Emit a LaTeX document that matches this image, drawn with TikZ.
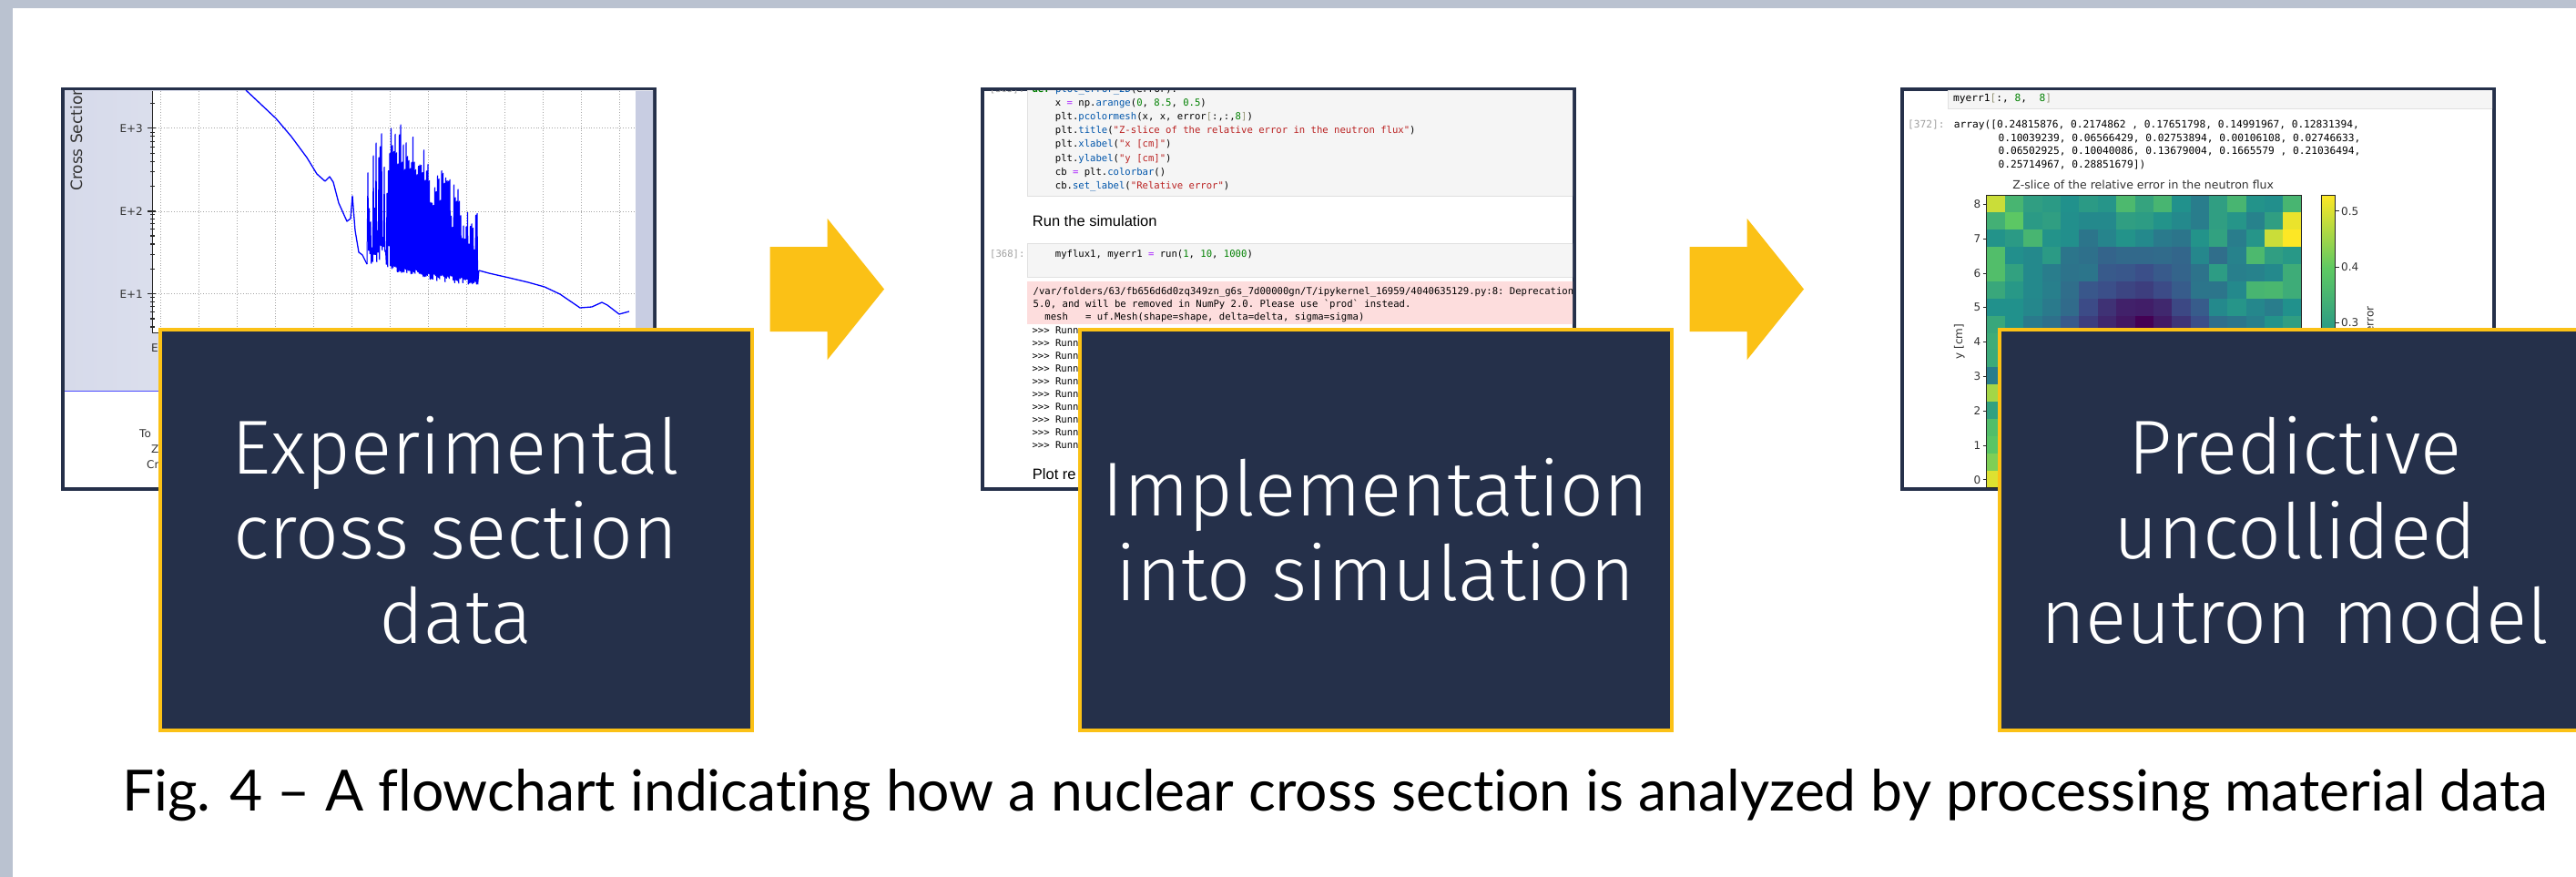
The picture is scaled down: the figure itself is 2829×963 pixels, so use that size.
\documentclass[tikz,border=0pt]{standalone}
\usepackage{fontspec}
\setmainfont{Lato}[Ligatures={TeX,NoCommon}]
\setmonofont{DejaVu Sans Mono}
\newfontfamily\boxfont{Fira Sans Light}
\newfontfamily\plotfont{DejaVu Sans}
\newfontfamily\nbfont{Liberation Sans}
\usepackage{xcolor}
\definecolor{FrameNavy}  {RGB}{37,  48,  74}
\definecolor{FlowYellow} {RGB}{251, 193, 22}
\definecolor{PageGray}   {RGB}{186, 194, 208}
\definecolor{XsBlue}     {RGB}{0,   0,  255}
\definecolor{XsShadeL}   {RGB}{214, 218, 234}
\definecolor{XsShadeR}   {RGB}{245, 246, 251}
\definecolor{XsStrip}    {RGB}{200, 205, 226}
\definecolor{CellGray}   {RGB}{245, 245, 245}
\definecolor{CellLine}   {RGB}{224, 224, 224}
\definecolor{ErrPink}    {RGB}{253, 221, 221}
\definecolor{PromptGray} {RGB}{160, 160, 160}
\definecolor{BracketGray}{RGB}{150, 150, 120}
\definecolor{CodeGreen}  {RGB}{0,  128,  0}
\definecolor{CodeBlue}   {RGB}{0,   85, 170}
\definecolor{CodeRed}    {RGB}{186, 33,  33}
\definecolor{CodePurple} {RGB}{170, 34, 255}
\definecolor{Vir0}{RGB}{68,  1,  84}
\definecolor{Vir1}{RGB}{59,  82, 139}
\definecolor{Vir2}{RGB}{33, 145, 140}
\definecolor{Vir3}{RGB}{94, 201,  98}
\definecolor{Vir4}{RGB}{253, 231, 37}
\usepackage{tikz}

\begin{document}
\begin{tikzpicture}[
  x=1pt, y=-1pt,
  screenframe/.style={
    draw=FrameNavy, fill=white,
    line width=4pt, inner sep=0pt,
    minimum width=650pt,
    minimum height=439pt},
  stagebox/.style={
    draw=FlowYellow, fill=FrameNavy,
    line width=4pt, inner sep=0pt,
    minimum width=650pt,
    minimum height=440pt,
    align=center, text=white,
    font=\boxfont\fontsize{84}{93}\selectfont},
  flowarrow/.style={fill=FlowYellow},
  codeline/.style={
    anchor=base west, inner sep=0pt,
    font=\ttfamily\fontsize{10.6}{12}\selectfont},
  arrline/.style={
    anchor=base west, inner sep=0pt,
    font=\ttfamily\fontsize{11.2}{12}\selectfont},
  heading/.style={
    anchor=base west, inner sep=0pt,
    font=\nbfont\fontsize{16.5}{18}\selectfont},
  plotlabel/.style={
    inner sep=0pt, text=black!80,
    font=\plotfont\fontsize{12}{14}\selectfont},
  cell/.style={fill=CellGray, draw=CellLine, line width=0.8pt}
]
\useasboundingbox (0,0) rectangle (2829,963);
\clip (0,0) rectangle (2829,963);
\fill[white] (0,0) rectangle (2829,963);
\fill[PageGray] (0,0) rectangle (2829,9);
\fill[PageGray] (0,0) rectangle (14,963);

% screenshot 1: cross section plot
\node[screenframe] (shotxs) at (394,317.5) {};
\begin{scope}
  \clip (71,100) rectangle (717,535);
  \shade[left color=XsShadeL, right color=XsShadeR]
    (71,100) rectangle (717,429);
  \fill[white] (168,100) rectangle (697.5,365);
  \fill[XsStrip] (697.5,100) rectangle (717,429);
  \draw[XsBlue!70, line width=1pt] (71,429) -- (717,429);
  \foreach \gx in {0,...,12}
    \draw[black!35, dotted, line width=0.9pt]
      ({176+42*\gx},100) -- ({176+42*\gx},365);
  \foreach \gy in {140.7,232,322.7}
    \draw[black!35, dotted, line width=0.9pt]
      (168,\gy) -- (697.5,\gy);
  \draw[black!85, line width=1pt]
    (167.5,100) -- (167.5,365) -- (697.5,365);
  \begin{scope}
    \clip (150,100) rectangle (175,365);
    \foreach \dec in {413.7,322.7,232,140.7}
      \foreach \k in {2,...,9}
        \draw[black!85, line width=1.2pt]
          (165,{\dec-91*log10(\k)}) -- (170,{\dec-91*log10(\k)});
  \end{scope}
  \foreach \gy in {140.7,232,322.7}
    \draw[black!85, line width=1.2pt] (162,\gy) -- (171,\gy);
  \node[plotlabel, anchor=east] (xsthree) at (157,140.7) {E+3};
  \node[plotlabel, anchor=east] (xstwo) at (157,232) {E+2};
  \node[plotlabel, anchor=east] (xsone) at (157,322.7) {E+1};
  \node[plotlabel, anchor=west] (xsaxis) at (166,382.5) {E};
  \node[plotlabel, rotate=90, anchor=base west,
    font=\plotfont\fontsize{17}{19}\selectfont]
    (xsylab) at (90,210) {Cross Section};
  \node[plotlabel, anchor=west] (xsto) at (153,476.7) {To};
  \node[plotlabel, anchor=west] (xsz) at (166,493) {Z};
  \node[plotlabel, anchor=west] (xscr) at (161,510) {Cr};
  % measured curve
  \draw[XsBlue, line width=1.3pt, line join=round]
    (270,99) -- (286,114) -- (303,130) -- (320,150) -- (337,173)
    -- (348,191) -- (357,199) -- (362,194) -- (366,200) -- (372,223)
    -- (381,243) -- (385,240) -- (387,215) -- (390,253) -- (394,277)
    -- (398,280) -- (403,290);
  \pgfmathsetseed{11}
  \draw[XsBlue, line width=1pt] (403,290)
    \foreach \sx in {404,405.5,...,525} {
      -- (\sx,{\sx<428 ? 140+140*rnd : 125+1.15*(\sx-432)+50*rnd})
      -- (\sx+0.75,{\sx<428 ? 270+30*rnd : 292+0.17*(\sx-428)+8*rnd})
    } -- (526,297);
  \draw[XsBlue, line width=1.3pt, line join=round]
    (526,297) -- (537,300) -- (559,305) -- (580,310) -- (598,315)
    -- (615,323) -- (637,338) -- (650,337) -- (661,332) -- (667,335)
    -- (680,345) -- (691,342);
\end{scope}

% screenshot 2: notebook running the simulation
\node[screenframe] (shotsim) at (1404,317.5) {};
\begin{scope}
  \clip (1081,100) rectangle (1727,535);
  \filldraw[cell] (1128,90) rectangle (1740,215);
  \node[codeline, text=PromptGray] (promptdef) at (1086.7,101.4) {[365]:};
  \node[codeline] (codedef) at (1133.3,101.4)
    {\textcolor{CodeGreen}{\bfseries def} \textcolor{CodeBlue}{plot\_error\_2D}(error):};
  \foreach \txt [count=\k from 0] in {
    {x \textcolor{CodePurple}{=} np.\textcolor{CodeBlue}{arange}(\textcolor{CodeGreen}{0}, \textcolor{CodeGreen}{8.5}, \textcolor{CodeGreen}{0.5})},
    {plt.\textcolor{CodeBlue}{pcolormesh}(x, x, error\textcolor{BracketGray}{[}:,:,\textcolor{CodeGreen}{8}\textcolor{BracketGray}{]})},
    {plt.\textcolor{CodeBlue}{title}(\textcolor{CodeRed}{"Z-slice of the relative error in the neutron flux"})},
    {plt.\textcolor{CodeBlue}{xlabel}(\textcolor{CodeRed}{"x [cm]"})},
    {plt.\textcolor{CodeBlue}{ylabel}(\textcolor{CodeRed}{"y [cm]"})},
    {cb \textcolor{CodePurple}{=} plt.\textcolor{CodeBlue}{colorbar}()},
    {cb.\textcolor{CodeBlue}{set\_label}(\textcolor{CodeRed}{"Relative error"})}}
    \node[codeline] (codeplot\k) at (1158.7,{116.5+15.15*\k}) {\txt};
  \node[heading] (runhead) at (1133.7,248.5) {Run the simulation};
  \filldraw[cell] (1128,267.7) rectangle (1740,304);
  \node[codeline, text=PromptGray] (promptrun) at (1087,282.5) {[368]:};
  \node[codeline] (coderun) at (1158.7,282.5)
    {myflux1, myerr1 \textcolor{CodePurple}{=} run(\textcolor{CodeGreen}{1}, \textcolor{CodeGreen}{10}, \textcolor{CodeGreen}{1000})};
  \fill[ErrPink] (1128,309) rectangle (1740,356);
  \foreach \txt [count=\k from 0] in {
    {/var/folders/63/fb656d6d0zq349zn\_g6s\_7d00000gn/T/ipykernel\_16959/4040635129.py:8: DeprecationWarning},
    {5.0, and will be removed in NumPy 2.0. Please use `prod` instead.},
    {~~mesh~~~= uf.Mesh(shape=shape, delta=delta, sigma=sigma)}}
    \node[codeline] (warn\k) at (1134.5,{323.5+14*\k}) {\txt};
  \foreach \k in {0,...,9}
    \node[codeline] (runlog\k) at (1133.3,{366+14.1*\k}) {>{}>{}> Runn};
  \node[heading] (plothead) at (1133.7,526) {Plot re};
\end{scope}

% screenshot 3: error map of the flux
\node[screenframe] (shotmodel) at (2414,317.5) {};
\begin{scope}
  \clip (2091,100) rectangle (2737,535);
  \filldraw[cell] (2139.3,90) rectangle (2750,119);
  \node[arrline] (codeerr) at (2145,112)
    {myerr1\textcolor{BracketGray}{[}:, \textcolor{CodeGreen}{8}, ~\textcolor{CodeGreen}{8}\textcolor{BracketGray}{]}};
  \node[arrline, text=PromptGray] (promptarr) at (2095,140.5) {[372]:};
  \node[arrline] (arr0) at (2145.7,140.5)
    {array([0.24815876, 0.2174862 , 0.17651798, 0.14991967, 0.12831394,};
  \foreach \txt [count=\k from 1] in {
    {0.10039239, 0.06566429, 0.02753894, 0.00106108, 0.02746633,},
    {0.06502925, 0.10040086, 0.13679004, 0.1665579 , 0.21036494,},
    {0.25714967, 0.28851679])}}
    \node[arrline] (arr\k) at (2194.3,{140.5+14.5*\k}) {\txt};
  \node[plotlabel, font=\plotfont\fontsize{12.5}{14}\selectfont]
    (maptitle) at (2353.7,202.7)
    {Z-slice of the relative error in the neutron flux};
  % heat map cells, value 0..100 on viridis
  \foreach \r/\vals in {
    0/{92,66,56,54,50,54,52,68,58,66,50,42,56,66,51,49,66},
    1/{64,74,54,56,49,47,47,56,55,51,47,42,56,52,44,56,97},
    2/{51,54,66,51,49,39,45,51,47,41,39,51,57,42,52,92,100},
    3/{70,49,47,54,39,37,32,34,34,35,33,46,36,44,68,56,53},
    4/{70,57,47,42,38,39,28,27,24,28,32,38,55,43,44,47,62},
    5/{60,53,47,43,36,27,24,21,19,23,29,39,39,47,66,67,62},
    6/{50,50,46,41,35,23,15,10,9,12,22,29,47,52,46,42,50},
    7/{60,50,41,37,28,19,12,7,0,8,16,24,36,39,43,51,56},
    8/{62},9/{61},10/{42},11/{86},12/{57},13/{70},14/{73},15/{80},16/{95}}
    \foreach \v [count=\c from 0] in \vals {
      \pgfmathtruncatemacro\seg{min(3,floor(\v/25))}
      \pgfmathtruncatemacro\segup{\seg+1}
      \pgfmathtruncatemacro\pct{4*(\v-25*\seg)}
      \fill[Vir\segup!\pct!Vir\seg]
        ({2181.6+20.36*\c},{214.3+18.9*\r}) rectangle ++(20.6,19.1);
    }
  \draw[black!85, line width=0.8pt] (2181.6,214.3) rectangle (2527.7,535.6);
  \foreach \t in {0,...,8} {
    \draw[black!85, line width=0.8pt]
      (2177.5,{526.7-37.8*\t}) -- (2181.6,{526.7-37.8*\t});
    \node[plotlabel, anchor=east] (ytick\t) at (2175.5,{526.7-37.8*\t}) {\t};
  }
  \node[plotlabel, rotate=90] (maplab) at (2151.7,375) {y [cm]};
  % colour bar
  \shade[top color=Vir4, bottom color=Vir3] (2548.9,214.3) rectangle (2564.2,294.6);
  \shade[top color=Vir3, bottom color=Vir2] (2548.9,294.6) rectangle (2564.2,375);
  \shade[top color=Vir2, bottom color=Vir1] (2548.9,375) rectangle (2564.2,455.3);
  \shade[top color=Vir1, bottom color=Vir0] (2548.9,455.3) rectangle (2564.2,535.6);
  \draw[black!85, line width=0.8pt] (2548.9,214.3) rectangle (2564.2,535.6);
  \foreach \cy/\cv in {231.7/0.5,293.3/0.4,354/0.3} {
    \draw[black!85, line width=0.8pt] (2564.2,\cy) -- (2568.5,\cy);
    \node[plotlabel, anchor=west] (cbtick\cv) at (2571,\cy) {\cv};
  }
  \node[plotlabel, rotate=90] (cblab) at (2602,377) {Relative error};
\end{scope}

% block arrows between the stages
\foreach \ax in {845.5,1855.5}
  \fill[flowarrow] (\ax,271) -- ++(63.2,0) -- ++(0,-31) -- ++(62.3,77.5)
    -- ++(-62.3,77.5) -- ++(0,-31) -- (\ax,364) -- cycle;

% stage boxes
\node[stagebox] (expdata) at (500.5,582)
  {Experimental\\cross section\\data};
\node[stagebox] (implsim) at (1510.5,582)
  {Implementation\\into simulation};
\node[stagebox] (predmodel) at (2520.5,582)
  {Predictive\\uncollided\\neutron model};

\node[anchor=base west, inner sep=0pt,
  font=\fontsize{62.4}{70}\selectfont] (caption) at (134,890)
  {Fig. 4 -- A flowchart indicating how a nuclear cross section is analyzed by processing material data};
\end{tikzpicture}
\end{document}
